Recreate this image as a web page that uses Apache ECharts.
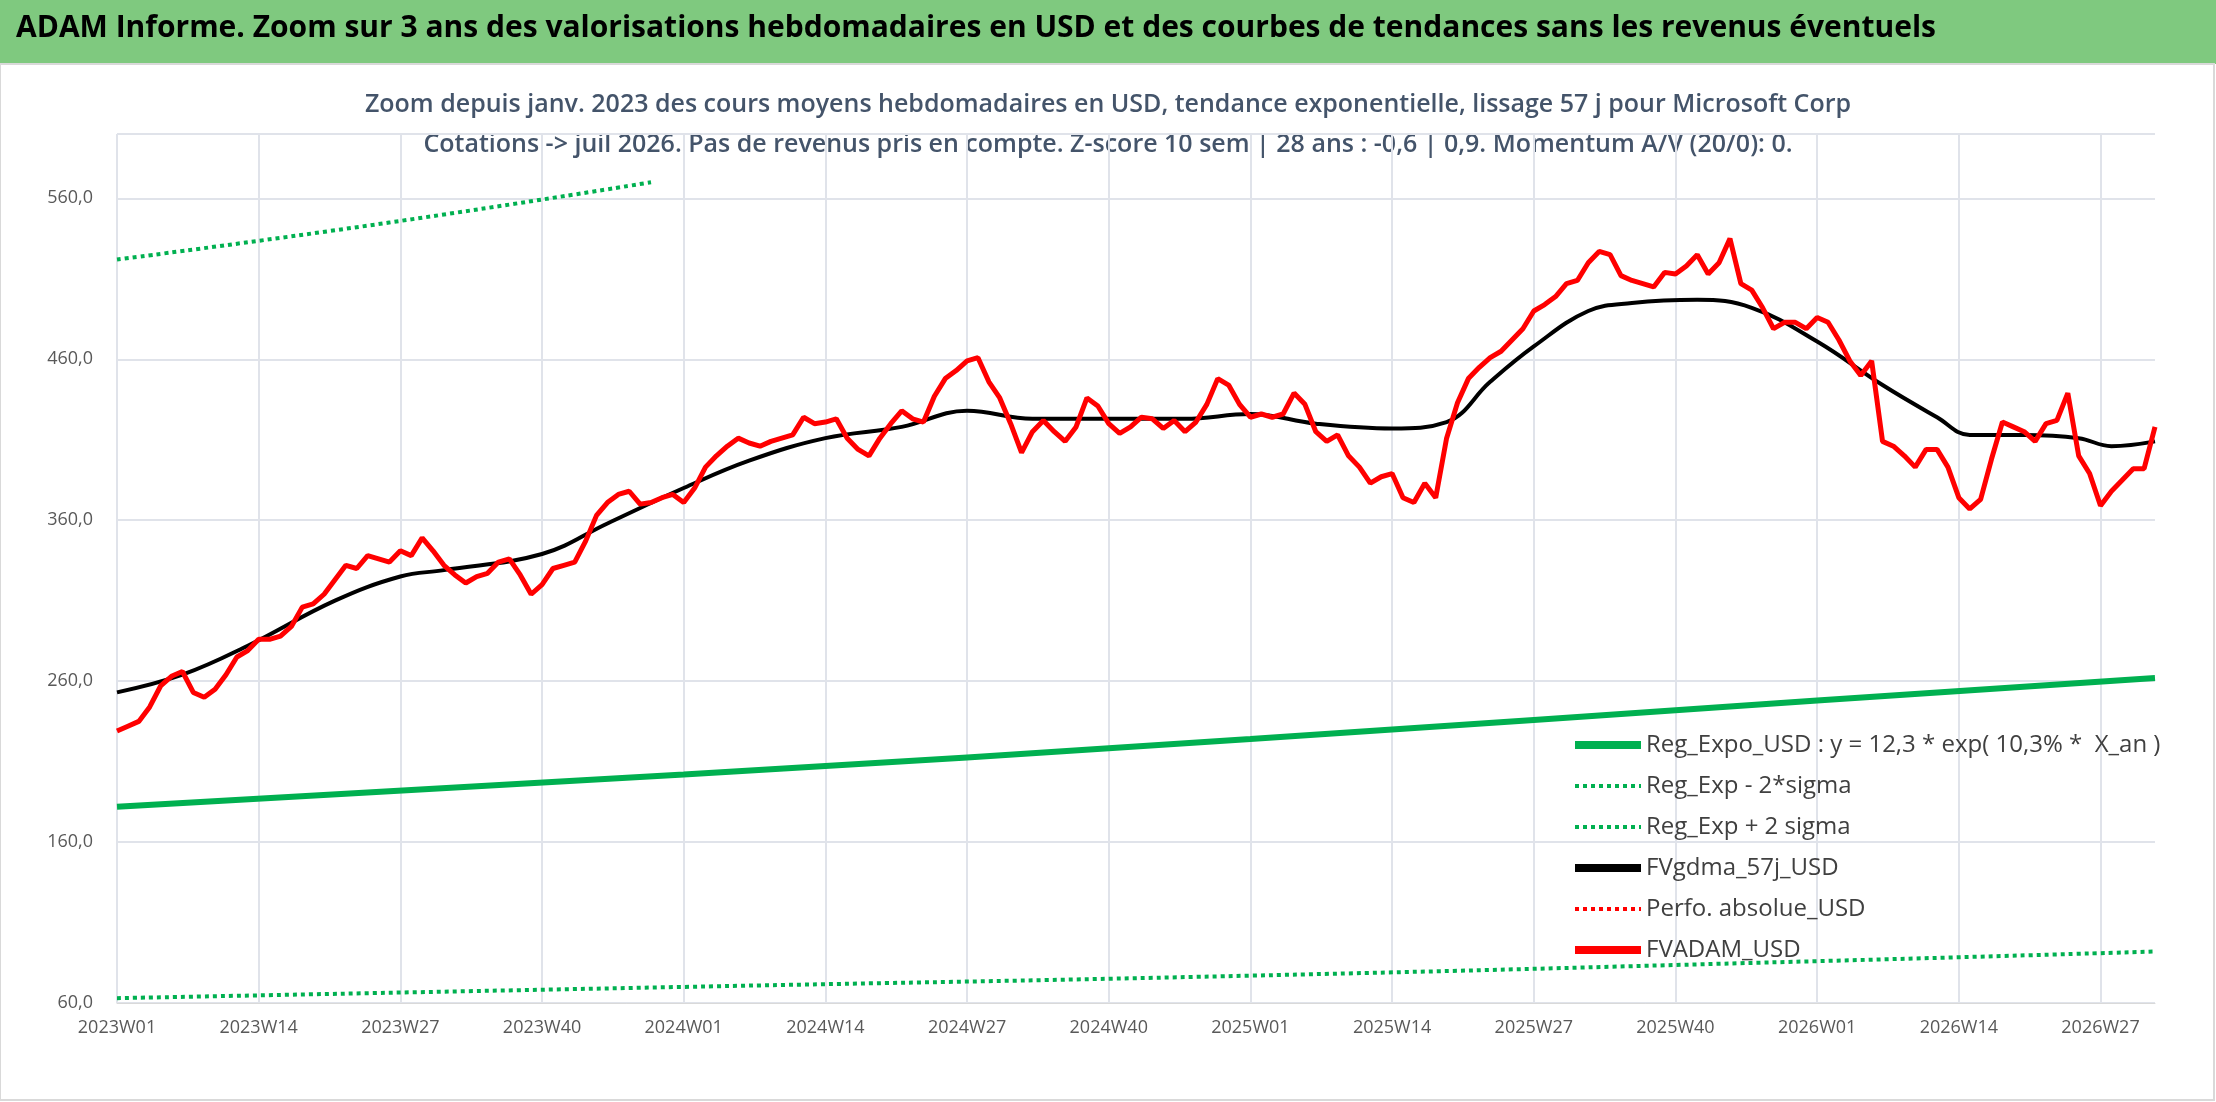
<!DOCTYPE html>
<html>
<head>
<meta charset="utf-8">
<script src="https://cdn.jsdelivr.net/npm/echarts@6/dist/echarts.min.js"></script>
<style>
  html, body { margin: 0; padding: 0; background: #fff; }
  #chart { width: 2216px; height: 1102px; }
</style>
</head>
<body>
<div id="chart"></div>
<script>
// weekly categories 2023W01 .. 2026W32
var years = [2023, 2024, 2025, 2026];
var weeks = [];
years.forEach(function (y) {
    var last = y === 2026 ? 32 : 52;
    for (var w = 1; w <= last; w++) weeks.push(y + "W" + (w < 10 ? "0" + w : w));
});

// FVADAM_USD, one value per week
var fvadam = [
    229, 232, 235, 244, 257, 263, 266, 253, 250, 255, 264, 275, 279, 286, 286, 288, 294, 306, 308, 314,
    323, 332, 330, 338, 336, 334, 341, 338, 349, 341, 332, 326, 321, 325, 327, 334, 336, 326, 314, 320,
    330, 332, 334, 347, 363, 371, 376, 378, 370, 371, 374, 376, 371, 380, 393, 400, 406, 411, 408, 406,
    409, 411, 413, 424, 420, 421, 423, 411, 404, 400, 411, 420, 428, 423, 421, 437, 448, 453, 459, 461,
    446, 436, 420, 402, 415, 422, 415, 409, 418, 436, 431, 420, 414, 418, 424, 423, 417, 422, 415, 421,
    432, 448, 444, 432, 424, 426, 424, 426, 439, 432, 415, 409, 413, 400, 393, 383, 387, 389, 374, 371,
    383, 374, 411, 433, 448, 455, 461, 465, 472, 479, 490, 494, 499, 507, 509, 520, 527, 525, 512, 509,
    507, 505, 514, 513, 518, 525, 513, 520, 535, 507, 503, 492, 479, 483, 483, 479, 486, 483, 472, 459,
    450, 459, 409, 406, 400, 393, 404, 404, 393, 374, 367, 373, 398, 421, 418, 415, 409, 420, 422, 439,
    400, 389, 369, 378, 385, 392, 392, 418
];

// FVgdma_57j_USD, read at selected weeks
var gdmaWeeks = [0, 6, 12, 20, 26, 30, 39, 45, 52, 58, 65, 72, 78, 84, 91, 98, 104, 110, 117, 122,
    126, 130, 135, 139, 145, 150, 156, 162, 167, 170, 175, 180, 183, 187];
var gdmaVals = [253, 264, 282, 310, 325, 329, 339, 358, 380, 397, 411, 418, 428, 423, 423, 423, 426, 420, 417, 421,
    446, 468, 490, 495, 497, 492, 471, 444, 424, 413, 413, 411, 406, 409];

// regression lines
var regWeeks = [0, 52, 104, 156, 187];
var regVals = [182, 202, 224, 248, 262];
var lowVals = [63, 70, 77, 86, 92];
// upper band is only visible up to ~2023W50 in the source chart
var highWeeks = [0, 25, 49];
var highVals = [522, 545, 570];

var names = ["Reg_Expo_USD : y = 12,3 * exp( 10,3% *  X_an )", "Reg_Exp - 2*sigma", "Reg_Exp + 2 sigma",
    "FVgdma_57j_USD", "Perfo. absolue_USD", "FVADAM_USD"];

function pairs(idx, vals) {
    return idx.map(function (i, k) { return [weeks[i], vals[k]]; });
}

var chart = echarts.init(document.getElementById("chart"));
var font = "'Open Sans', 'Noto Sans', sans-serif";
var solid = { icon: "rect" };
var dotted = { itemStyle: { opacity: 0 }, lineStyle: { width: 4 } };
var option = {
    animation: false,
    textStyle: { fontFamily: font },
    graphic: [
        { type: "rect", shape: { x: 0, y: 0, width: 2216, height: 64 }, style: { fill: "#7fc97f" } },
        { type: "rect", shape: { x: 0, y: 64, width: 2214, height: 1036 }, style: { fill: "none", stroke: "#d9d9d9", lineWidth: 2 } },
        {
            type: "text", left: 16, top: 13,
            style: { text: "ADAM Informe. Zoom sur 3 ans des valorisations hebdomadaires en USD et des courbes de tendances sans les revenus éventuels",
                font: "bold 30px " + font, fill: "#000" }
        },
        {
            type: "text", left: "center", top: 92,
            style: { text: "Zoom depuis janv. 2023 des cours moyens hebdomadaires en USD, tendance exponentielle, lissage 57 j pour Microsoft Corp",
                font: "600 25px " + font, fill: "#44546a" }
        },
        {
            type: "text", left: "center", top: 132,
            style: { text: "Cotations -> juil 2026. Pas de revenus pris en compte. Z-score 10 sem | 28 ans : -0,6 | 0,9. Momentum A/V (20/0): 0.",
                font: "600 25px " + font, fill: "#44546a" }
        }
    ],
    grid: { left: 117, right: 61, top: 134, bottom: 99 },
    legend: {
        orient: "vertical", left: 1568, top: 728, itemGap: 17, itemWidth: 66, itemHeight: 8,
        textStyle: { fontSize: 24, color: "#404040", fontFamily: font },
        data: [
            Object.assign({ name: names[0] }, solid),
            Object.assign({ name: names[1] }, dotted),
            Object.assign({ name: names[2] }, dotted),
            Object.assign({ name: names[3] }, solid, { itemHeight: 6 }),
            Object.assign({ name: names[4] }, dotted),
            Object.assign({ name: names[5] }, solid)
        ]
    },
    xAxis: {
        type: "category", data: weeks, boundaryGap: false,
        axisLine: { lineStyle: { color: "#d9d9d9" } },
        axisTick: { show: false },
        axisLabel: { interval: 12, color: "#595959", fontSize: 18, margin: 16 },
        splitLine: { show: true, interval: 12, lineStyle: { color: "#e0e3ea", width: 2 } }
    },
    yAxis: {
        type: "value", min: 60, max: 600, interval: 100,
        axisLine: { show: false }, axisTick: { show: false },
        axisLabel: { color: "#595959", fontSize: 18, margin: 24, showMaxLabel: false,
            formatter: function (v) { return v.toFixed(1).replace(".", ","); } },
        splitLine: { lineStyle: { color: "#e0e3ea", width: 2 } }
    },
    series: [
        { name: names[0], type: "line", data: pairs(regWeeks, regVals),
            symbol: "none", smooth: true, lineStyle: { color: "#00b050", width: 6 }, itemStyle: { color: "#00b050" } },
        { name: names[1], type: "line", data: pairs(regWeeks, lowVals),
            symbol: "none", smooth: true, lineStyle: { color: "#00b050", width: 4, type: "dotted" }, itemStyle: { color: "#00b050" } },
        { name: names[2], type: "line", data: pairs(highWeeks, highVals),
            symbol: "none", smooth: true, lineStyle: { color: "#00b050", width: 4, type: "dotted" }, itemStyle: { color: "#00b050" } },
        { name: names[3], type: "line", data: pairs(gdmaWeeks, gdmaVals),
            symbol: "none", smooth: 0.4, lineStyle: { color: "#000", width: 4 }, itemStyle: { color: "#000" }, z: 3 },
        { name: names[4], type: "line", data: [],
            symbol: "none", lineStyle: { color: "#ff0000", width: 3, type: "dotted" }, itemStyle: { color: "#ff0000" } },
        { name: names[5], type: "line", data: fvadam,
            symbol: "none", lineStyle: { color: "#ff0000", width: 5 }, itemStyle: { color: "#ff0000" }, z: 4 }
    ]
};
chart.setOption(option);
</script>
</body>
</html>
